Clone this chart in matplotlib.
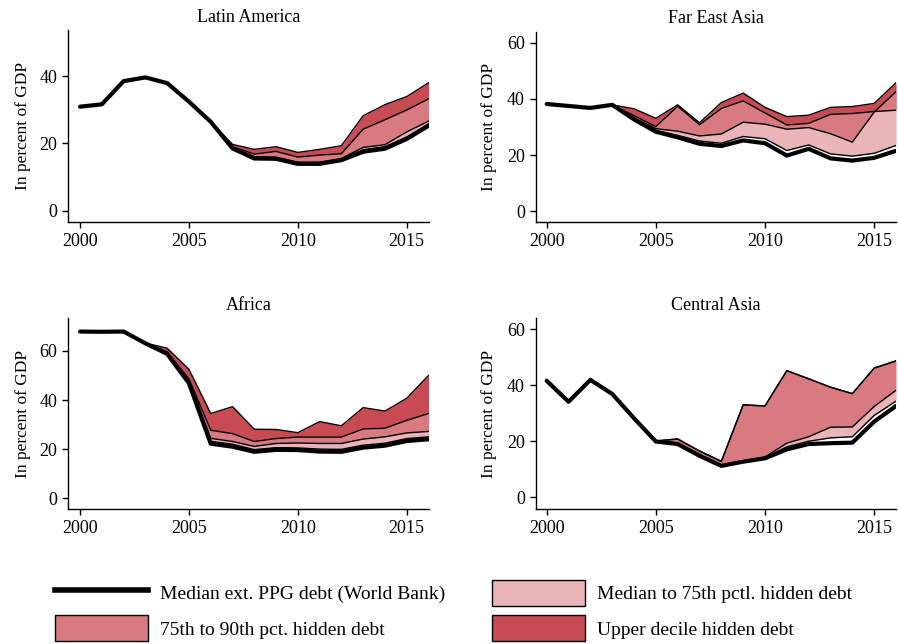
import matplotlib
matplotlib.use("Agg")
import matplotlib.pyplot as plt
from matplotlib.lines import Line2D
from matplotlib.patches import Patch

plt.rcParams['font.family'] = ['Liberation Serif', 'DejaVu Serif']
plt.rcParams['font.size'] = 12

years = list(range(2000, 2017))

titles = ["Latin America", "Far East Asia", "Africa", "Central Asia"]
ylabel = "In percent of GDP"
legend_labels = ["Median ext. PPG debt (World Bank)",
                 "75th to 90th pct. hidden debt",
                 "Median to 75th pctl. hidden debt",
                 "Upper decile hidden debt"]

# ---- Latin America ----
la_ppg = [30.9, 31.6, 38.5, 39.6, 37.9, 32.4, 26.4, 18.5, 15.5, 15.4, 13.9, 13.9, 15.0, 17.5, 18.4, 21.3, 25.2]
la_p50 = [30.9, 31.6, 38.5, 39.6, 37.9, 32.4, 26.4, 18.7, 15.8, 15.7, 14.2, 14.2, 15.3, 18.1, 19.0, 21.9, 25.8]
la_p75 = [30.9, 31.6, 38.5, 39.6, 37.9, 32.4, 26.4, 18.8, 16.0, 15.9, 14.4, 14.4, 15.5, 18.8, 19.6, 23.4, 26.6]
la_p90 = [30.9, 31.6, 38.5, 39.6, 37.9, 32.4, 26.4, 19.0, 16.8, 17.6, 15.9, 16.5, 16.9, 24.2, 27.0, 29.9, 33.2]
la_top = [30.9, 31.6, 38.5, 39.6, 37.9, 32.4, 26.4, 19.7, 18.2, 19.0, 17.3, 18.2, 19.3, 28.2, 31.5, 33.9, 38.0]

# ---- Far East Asia ----
fe_ppg = [38.2, 37.5, 36.8, 37.9, 32.7, 28.3, 26.3, 24.0, 23.2, 25.2, 24.2, 19.8, 22.2, 18.8, 18.0, 19.0, 21.5]
fe_p50 = [38.2, 37.5, 36.8, 37.9, 33.0, 28.8, 27.0, 25.0, 24.2, 26.6, 25.8, 21.6, 23.6, 20.4, 19.6, 20.6, 23.4]
fe_p75 = [38.2, 37.5, 36.8, 37.9, 33.2, 29.4, 28.5, 26.8, 27.5, 31.7, 31.0, 29.2, 29.8, 27.6, 24.6, 35.3, 42.6]
fe_p90 = [38.2, 37.5, 36.8, 37.9, 34.0, 30.1, 37.4, 30.8, 36.6, 39.3, 35.0, 30.7, 31.3, 34.5, 34.8, 35.5, 36.0]
fe_top = [38.2, 37.5, 36.8, 37.9, 36.5, 33.1, 37.9, 31.5, 38.7, 42.1, 37.0, 33.7, 34.2, 37.0, 37.3, 38.4, 45.8]

# ---- Africa ----
af_ppg = [67.9, 67.8, 67.9, 63.1, 58.8, 46.8, 22.2, 21.0, 18.9, 19.7, 19.6, 19.0, 18.9, 20.6, 21.4, 23.3, 24.0]
af_p50 = [67.9, 67.8, 67.9, 63.1, 59.0, 47.3, 23.2, 22.0, 19.8, 20.6, 20.5, 20.0, 19.9, 21.6, 22.4, 24.3, 25.0]
af_p75 = [67.9, 67.8, 67.9, 63.1, 59.3, 47.8, 24.4, 23.1, 21.1, 22.3, 22.5, 22.3, 22.3, 24.1, 25.0, 26.6, 27.2]
af_p90 = [67.9, 67.8, 67.9, 63.1, 59.6, 48.6, 27.7, 26.3, 23.1, 24.3, 24.9, 24.9, 24.9, 28.2, 28.5, 31.7, 34.5]
af_top = [67.9, 67.8, 67.9, 63.2, 61.1, 52.5, 34.5, 37.3, 28.1, 28.0, 26.7, 31.2, 29.5, 36.9, 35.5, 40.7, 50.0]

# ---- Central Asia ----
ca_ppg = [41.6, 34.1, 41.9, 36.9, 28.2, 19.9, 19.0, 14.8, 11.2, 12.7, 13.9, 17.1, 19.0, 19.3, 19.5, 27.0, 32.6]
ca_p50 = [41.6, 34.1, 41.9, 36.9, 28.2, 19.9, 19.2, 15.0, 11.4, 12.9, 14.1, 18.0, 20.0, 21.2, 21.6, 29.2, 34.3]
ca_p75 = [41.6, 34.1, 41.9, 36.9, 28.2, 19.9, 19.4, 15.2, 11.5, 13.0, 14.4, 19.3, 21.6, 25.0, 25.1, 32.4, 38.2]
ca_p90 = [41.6, 34.1, 41.9, 36.9, 28.2, 20.1, 20.8, 16.5, 12.8, 33.0, 32.6, 45.2, 42.3, 39.3, 37.0, 46.1, 48.7]
ca_top = [41.6, 34.1, 41.9, 36.9, 28.2, 20.1, 20.8, 16.5, 12.8, 33.0, 32.6, 45.2, 42.3, 39.3, 37.0, 46.1, 48.7]

panels = [
    (la_ppg, la_p50, la_p75, la_p90, la_top),
    (fe_ppg, fe_p50, fe_p75, fe_p90, fe_top),
    (af_ppg, af_p50, af_p75, af_p90, af_top),
    (ca_ppg, ca_p50, ca_p75, ca_p90, ca_top),
]
yticks = [[0, 20, 40], [0, 20, 40, 60], [0, 20, 40, 60], [0, 20, 40, 60]]
ylims = [(-3.3, 53.7), (-3.8, 64.0), (-4.4, 73.3), (-4.2, 63.9)]

C_LIGHT = "#EAB5B8"
C_MID = "#D87A80"
C_DARK = "#C84A52"

W, H = 898, 644
fig = plt.figure(figsize=(W / 100, H / 100), dpi=100)

boxes = [(68.3, 30, 428.5, 221.7), (536, 31.7, 896, 221.7),
         (68.3, 318.3, 428.5, 509), (536, 318.3, 896, 509)]

for i, (box, data) in enumerate(zip(boxes, panels)):
    l, t, r, b = box
    ax = fig.add_axes([l / W, 1 - b / H, (r - l) / W, (b - t) / H])
    ppg, p50, p75, p90, top = data
    ax.fill_between(years, p90, top, color=C_DARK, lw=0, zorder=1)
    ax.fill_between(years, p50, p75, color=C_LIGHT, lw=0, zorder=2)
    ax.fill_between(years, p75, p90, color=C_MID, lw=0, zorder=3)
    for s in (p50, p75, p90, top):
        ax.plot(years, s, color="black", lw=1.0, zorder=4)
    ax.plot(years, ppg, color="black", lw=3.0, zorder=5, solid_joinstyle="round",
            solid_capstyle="round")
    x0 = 1999.46 if i % 2 == 0 else 1999.51
    ax.set_xlim(x0, 2016)
    ax.set_ylim(*ylims[i])
    ax.set_xticks([2000, 2005, 2010, 2015])
    ax.set_yticks(yticks[i])
    for sp in ("top", "right"):
        ax.spines[sp].set_visible(False)
    for sp in ("left", "bottom"):
        ax.spines[sp].set_linewidth(1.0)
    ax.tick_params(direction="out", length=4, width=1, pad=4, labelsize=13)
    ax.set_title(titles[i], fontsize=13, pad=6)
    ax.set_ylabel(ylabel, fontsize=12.5)
    ax.yaxis.set_label_coords(-0.104 if i % 2 == 0 else -0.108, 0.5)

fs = 14
fpx = fs * 100 / 72
h_line = Line2D([], [], color="black", lw=4)
h_mid = Patch(facecolor=C_MID, edgecolor="black", lw=1)
h_light = Patch(facecolor=C_LIGHT, edgecolor="black", lw=1)
h_dark = Patch(facecolor=C_DARK, edgecolor="black", lw=1)

common = dict(frameon=False, fontsize=fs, handlelength=93 / fpx, handleheight=1.68,
              handletextpad=12 / fpx, labelspacing=0.48, borderpad=0, borderaxespad=0,
              loc="upper left")
fig.legend([h_line, h_mid], [legend_labels[0], legend_labels[1]],
           bbox_to_anchor=(55 / W, 1 - 580 / H), **common)
fig.legend([h_light, h_dark], [legend_labels[2], legend_labels[3]],
           bbox_to_anchor=(492 / W, 1 - 580 / H), **common)

fig.savefig("out.png", dpi=100)
